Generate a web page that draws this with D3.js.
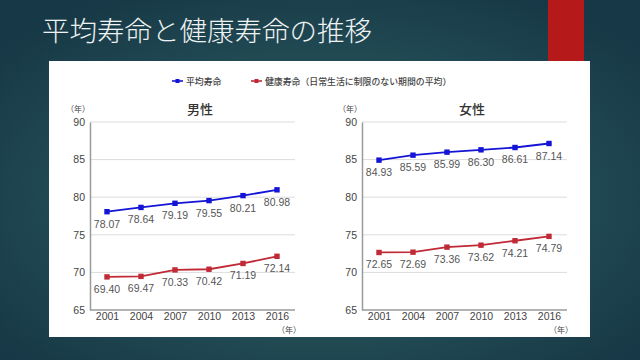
<!DOCTYPE html>
<html><head><meta charset="utf-8">
<script src="https://cdn.jsdelivr.net/npm/d3@7"></script>
<style>html,body{margin:0;padding:0;background:#1b4250;}svg{display:block;}</style>
</head><body>
<svg id="c" width="640" height="360"></svg>
<script>
const years = ["2001","2004","2007","2010","2013","2016"];
const maleAvg = [78.07, 78.64, 79.19, 79.55, 80.21, 80.98];
const maleHealthy = [69.40, 69.47, 70.33, 70.42, 71.19, 72.14];
const femaleAvg = [84.93, 85.59, 85.99, 86.30, 86.61, 87.14];
const femaleHealthy = [72.65, 72.69, 73.36, 73.62, 74.21, 74.79];
const yTicks = [65, 70, 75, 80, 85, 90];
const seriesNames = ["平均寿命", "健康寿命（日常生活に制限のない期間の平均）"];
const panelTitles = ["男性", "女性"];
const titleText = "平均寿命と健康寿命の推移";

const svg = d3.select("#c");
const defs = svg.append("defs");
const rg = defs.append("radialGradient").attr("id","bg").attr("cx","0.5").attr("cy","0.55").attr("r","0.65");
rg.append("stop").attr("offset","0%").attr("stop-color","#306668");
rg.append("stop").attr("offset","100%").attr("stop-color","#173846");
svg.append("rect").attr("width",640).attr("height",360).attr("fill","url(#bg)");

// red accent bar
svg.append("rect").attr("x",548).attr("y",0).attr("width",36).attr("height",61).attr("fill","#b5191a");

// title
svg.append("text").attr("x",42).attr("y",41).text(titleText)
  .attr("fill","#eef2f2").attr("font-family","'Noto Sans CJK JP'").attr("font-weight",300).attr("font-size",27.5);

// white panel
svg.append("rect").attr("x",49).attr("y",61).attr("width",541).attr("height",276).attr("fill","#ffffff");

const blue = "#1414d6", red = "#c02a36";
const colors = [blue, red];
const jp = "'Noto Sans CJK JP'";
const num = "'Liberation Sans', Arial, sans-serif";

// legend
const legX = [172, 251];
seriesNames.forEach((n,i)=>{
  const g = svg.append("g");
  g.append("line").attr("x1",legX[i]).attr("x2",legX[i]+11).attr("y1",81).attr("y2",81).attr("stroke",colors[i]).attr("stroke-width",1.6);
  g.append("rect").attr("x",legX[i]+3.5).attr("y",79).attr("width",4).attr("height",4).attr("fill",colors[i]);
  g.append("text").attr("x",legX[i]+14).attr("y",84.5).text(n).attr("font-family",jp).attr("font-weight",500).attr("font-size",8.9).attr("fill","#444");
});

function panel(x0, x1, title, avg, healthy) {
  const y = d3.scaleLinear().domain([65,90]).range([310,122]);
  const x = d3.scalePoint().domain(years).range([x0+17, x1-18]);
  const g = svg.append("g");
  // grid
  g.selectAll(".grid").data(yTicks.slice(1)).enter().append("line")
    .attr("x1",x0).attr("x2",x1).attr("y1",d=>y(d)).attr("y2",d=>y(d))
    .attr("stroke","#dcdcdc").attr("stroke-width",1);
  // y axis
  const ya = g.append("g").attr("transform",`translate(${x0},0)`)
    .call(d3.axisLeft(y).tickValues(yTicks).tickSize(0).tickPadding(5));
  ya.select(".domain").attr("stroke","#9a9a9a").attr("stroke-width",1.5);
  ya.selectAll("text").attr("font-family",num).attr("font-size",10.5).attr("fill","#444");
  // x axis
  const xa = g.append("g").attr("transform",`translate(0,${y(65)})`)
    .call(d3.axisBottom(x).tickSize(0).tickPadding(3));
  xa.select(".domain").attr("d",`M${x0},0H${x1}`).attr("stroke","#9a9a9a").attr("stroke-width",1.5);
  xa.selectAll("text").attr("font-family",num).attr("font-size",10.5).attr("fill","#444");
  // title and units
  g.append("text").attr("x",(x0+x1)/2 + 7.5).attr("y",114).attr("text-anchor","middle").text(title)
    .attr("font-family",jp).attr("font-weight",500).attr("font-size",13).attr("fill","#333");
  g.append("text").attr("x",x0-12).attr("y",112).attr("text-anchor","middle").text("（年）")
    .attr("font-family",jp).attr("font-size",8).attr("fill","#444");
  g.append("text").attr("x",x1-6).attr("y",333).attr("text-anchor","middle").text("（年）")
    .attr("font-family",jp).attr("font-size",8).attr("fill","#444");
  const line = d3.line().x((d,i)=>x(years[i])).y(d=>y(d));
  [avg, healthy].forEach((s,k)=>{
    g.append("path").datum(s).attr("d",line).attr("fill","none").attr("stroke",colors[k]).attr("stroke-width",1.8);
    g.selectAll(null).data(s).enter().append("rect")
      .attr("x",(d,i)=>x(years[i])-2.7).attr("y",d=>y(d)-2.7).attr("width",5.4).attr("height",5.4).attr("fill",colors[k]);
    g.selectAll(null).data(s).enter().append("text")
      .attr("x",(d,i)=>x(years[i])).attr("y",d=>y(d)+16).attr("text-anchor","middle")
      .text(d=>d.toFixed(2)).attr("font-family",num).attr("font-size",10.5).attr("fill","#555");
  });
}
panel(90, 295, panelTitles[0], maleAvg, maleHealthy);
panel(362, 567, panelTitles[1], femaleAvg, femaleHealthy);
</script>
</body></html>
